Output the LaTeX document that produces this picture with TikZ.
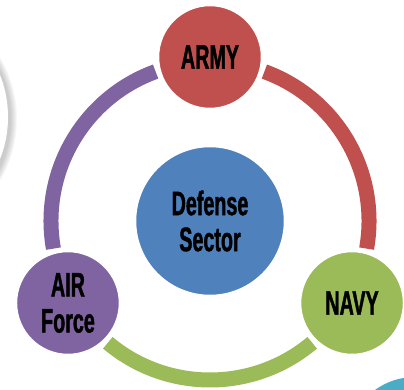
\documentclass[tikz,border=0pt]{standalone}
\usepackage{fontspec}
\newfontfamily\agency[FakeStretch=0.58,FakeBold=1.2]{Liberation Sans}
\definecolor{armyred}{HTML}{C0504D}
\definecolor{navygreen}{HTML}{9BBB59}
\definecolor{airpurple}{HTML}{8064A2}
\definecolor{hubblue}{HTML}{4F81BD}
\definecolor{decoteal}{HTML}{4BACC6}
\begin{document}
\begin{tikzpicture}[x=1pt,y=1pt,
  hubnode/.style={circle, minimum size=104pt, inner sep=0pt, draw=white, line width=2.5pt,
    font=\agency\bfseries\fontsize{34}{36}\selectfont, align=center, text=black},
  ringarc/.style={line width=15pt}]
\useasboundingbox (0,0) rectangle (404,390);
\clip (0,0) rectangle (404,390);
\coordinate (C) at (210,169);
% partial decorations at the edges
\foreach \d in {1,...,7}
  \fill[black, opacity=0.03] (-104,271) circle ({114+\d});
\fill[white] (-106,273) circle (114);
\fill[decoteal] (415,-55) circle (68);
% ring arcs
\draw[ringarc, airpurple] ([shift={(C)}]110:159) arc[start angle=110, end angle=190, radius=159];
\draw[ringarc, armyred] ([shift={(C)}]-10:159) arc[start angle=-10, end angle=70, radius=159];
\draw[ringarc, navygreen] ([shift={(C)}]230:159) arc[start angle=230, end angle=310, radius=159];
% nodes
\node[hubnode, fill=hubblue, minimum size=150pt] (hub) at (C) {Defense\\Sector};
\node[hubnode, fill=armyred] (army) at ([shift={(C)}]90:164) {ARMY};
\node[hubnode, fill=airpurple] (air) at ([shift={(C)}]210:164) {AIR\\Force};
\node[hubnode, fill=navygreen] (navy) at ([shift={(C)}]330:164) {NAVY};
\end{tikzpicture}
\end{document}
